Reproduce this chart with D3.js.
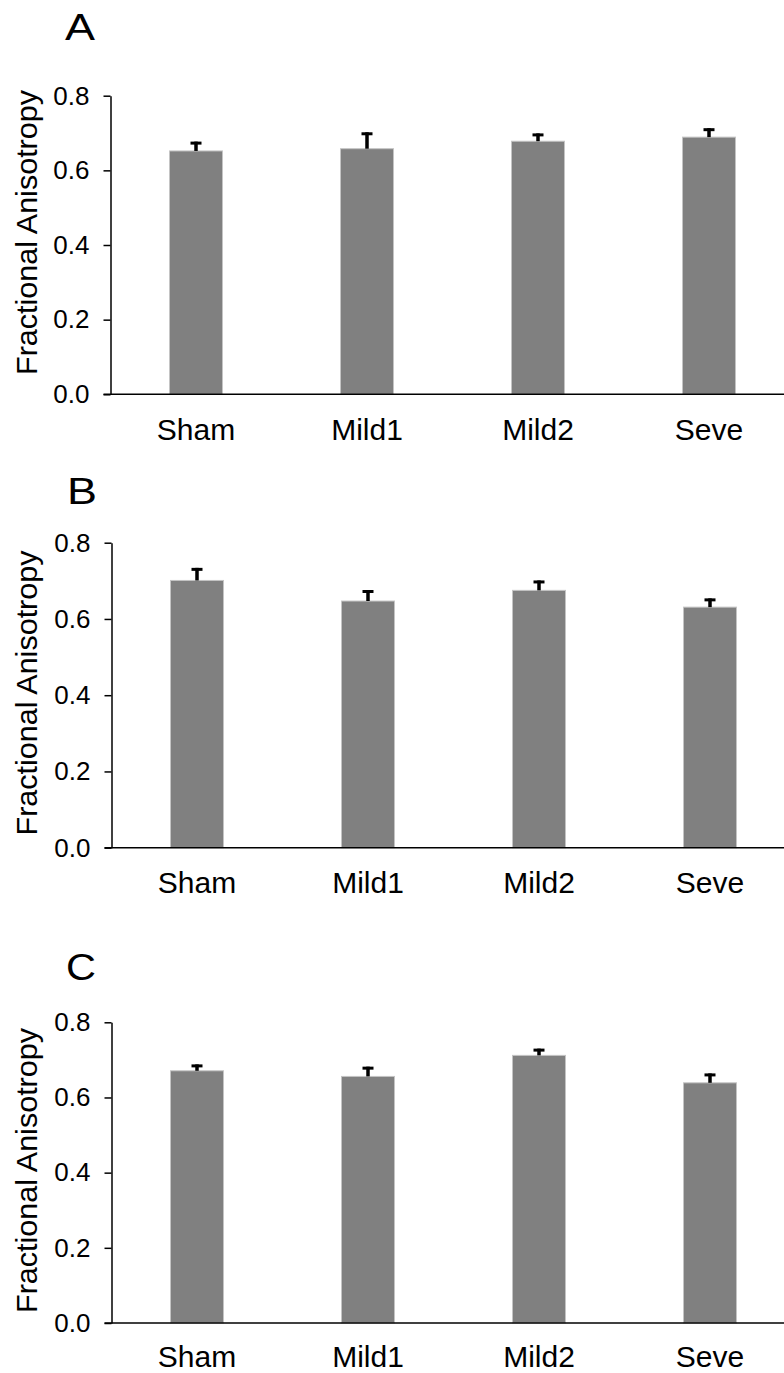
<!DOCTYPE html>
<html>
<head>
<meta charset="utf-8">
<script src="https://d3js.org/d3.v7.min.js"></script>
<style>
  body { margin: 0; background: #ffffff; }
  text { font-family: Arial, "Liberation Sans", sans-serif; fill: #000000; }
</style>
</head>
<body>
<script>

// groups on the x axis
var groups = ["Sham", "Mild1", "Mild2", "Seve"];

// y axis ticks
var yTicks = [0.0, 0.2, 0.4, 0.6, 0.8];

// panel letters
var panelLetters = ["A", "B", "C"];

// mean fractional anisotropy per group, one array per panel
var valuesA = [0.652, 0.658, 0.678, 0.689];
var valuesB = [0.701, 0.647, 0.675, 0.631];
var valuesC = [0.671, 0.656, 0.712, 0.639];

// standard errors (upper bars only)
var errorsA = [0.025, 0.044, 0.021, 0.024];
var errorsB = [0.033, 0.029, 0.026, 0.023];
var errorsC = [0.017, 0.026, 0.018, 0.025];

var yTitle = "Fractional Anisotropy";

window.onload = function() {

  var width = 784;
  var height = 1373;

  // where each panel sits on the page
  var layouts = [
    {top: 95.7, bottom: 394.3, axisX: 110.5, letterX: 65, letterY: 40, titleY: 232.5, labelPad: 24.5},
    {top: 542.7, bottom: 847.7, axisX: 111.5, letterX: 67, letterY: 504, titleY: 693, labelPad: 24},
    {top: 1022.3, bottom: 1323, axisX: 111.5, letterX: 66, letterY: 980, titleY: 1170.5, labelPad: 23}
  ];

  var panels = [
    {values: valuesA, errors: errorsA},
    {values: valuesB, errors: errorsB},
    {values: valuesC, errors: errorsC}
  ];

  var step = 171;

  var svg = d3.select("body")
              .append("svg")
              .attr("width", width)
              .attr("height", height);

  svg.append("rect")
     .attr("width", width)
     .attr("height", height)
     .attr("fill", "#ffffff");

  panels.forEach(function(panel, p) {

    var lay = layouts[p];

    var rows = groups.map(function(g, i) {
      return {name: g, value: panel.values[i], error: panel.errors[i]};
    });

    var xScale = d3.scaleBand()
                   .domain(groups)
                   .range([lay.axisX, lay.axisX + step * groups.length])
                   .paddingInner(0.69)
                   .paddingOuter(0.345);

    var yScale = d3.scaleLinear()
                   .domain([0, 0.8])
                   .range([lay.bottom, lay.top]);

    var g = svg.append("g");

    // panel letter
    g.append("text")
     .attr("x", lay.letterX)
     .attr("y", lay.letterY)
     .style("font-size", "37px")
     .attr("textLength", 30)
     .attr("lengthAdjust", "spacingAndGlyphs")
     .text(panelLetters[p]);

    // bars
    g.selectAll("rect.bar")
     .data(rows)
     .enter()
     .append("rect")
     .attr("class", "bar")
     .attr("x", function(d) { return xScale(d.name); })
     .attr("width", xScale.bandwidth())
     .attr("y", function(d) { return yScale(d.value); })
     .attr("height", function(d) { return yScale(0) - yScale(d.value); })
     .attr("fill", "#808080")
     .attr("stroke", "#c4c4c4")
     .attr("stroke-width", 1);

    // error bar stems
    g.selectAll("line.stem")
     .data(rows)
     .enter()
     .append("line")
     .attr("class", "stem")
     .attr("x1", function(d) { return xScale(d.name) + xScale.bandwidth() / 2; })
     .attr("x2", function(d) { return xScale(d.name) + xScale.bandwidth() / 2; })
     .attr("y1", function(d) { return yScale(d.value); })
     .attr("y2", function(d) { return yScale(d.value + d.error); })
     .attr("stroke", "#000000")
     .attr("stroke-width", 3.5);

    // error bar caps
    g.selectAll("line.cap")
     .data(rows)
     .enter()
     .append("line")
     .attr("class", "cap")
     .attr("x1", function(d) { return xScale(d.name) + xScale.bandwidth() / 2 - 5.5; })
     .attr("x2", function(d) { return xScale(d.name) + xScale.bandwidth() / 2 + 5.5; })
     .attr("y1", function(d) { return yScale(d.value + d.error) + 1.5; })
     .attr("y2", function(d) { return yScale(d.value + d.error) + 1.5; })
     .attr("stroke", "#000000")
     .attr("stroke-width", 3);

    // y axis
    var yAxis = d3.axisLeft(yScale)
                  .tickValues(yTicks)
                  .tickFormat(d3.format(".1f"))
                  .tickSizeInner(7)
                  .tickSizeOuter(0)
                  .tickPadding(14);

    var yg = g.append("g")
              .attr("transform", "translate(" + lay.axisX + ",0)")
              .call(yAxis);

    yg.selectAll("path, line")
      .attr("stroke", "#000000")
      .attr("stroke-width", 1.5);

    yg.selectAll("text")
      .style("font-family", "Arial, 'Liberation Sans', sans-serif")
      .style("font-size", "26px");

    // x axis line, runs out to the page edge
    g.append("line")
     .attr("x1", lay.axisX - 7)
     .attr("x2", width)
     .attr("y1", yScale(0))
     .attr("y2", yScale(0))
     .attr("stroke", "#000000")
     .attr("stroke-width", 1.5);

    // x axis labels
    var xAxis = d3.axisBottom(xScale)
                  .tickSize(0)
                  .tickPadding(lay.labelPad);

    var xg = g.append("g")
              .attr("transform", "translate(0," + yScale(0) + ")")
              .call(xAxis);

    xg.select(".domain").remove();

    xg.selectAll("text")
      .style("font-family", "Arial, 'Liberation Sans', sans-serif")
      .style("font-size", "30px");

    // y axis title
    g.append("text")
     .attr("transform", "translate(37," + lay.titleY + ")rotate(-90)")
     .attr("text-anchor", "middle")
     .style("font-size", "29px")
     .attr("textLength", 285)
     .attr("lengthAdjust", "spacingAndGlyphs")
     .text(yTitle);
  });
};
</script>
</body>
</html>
